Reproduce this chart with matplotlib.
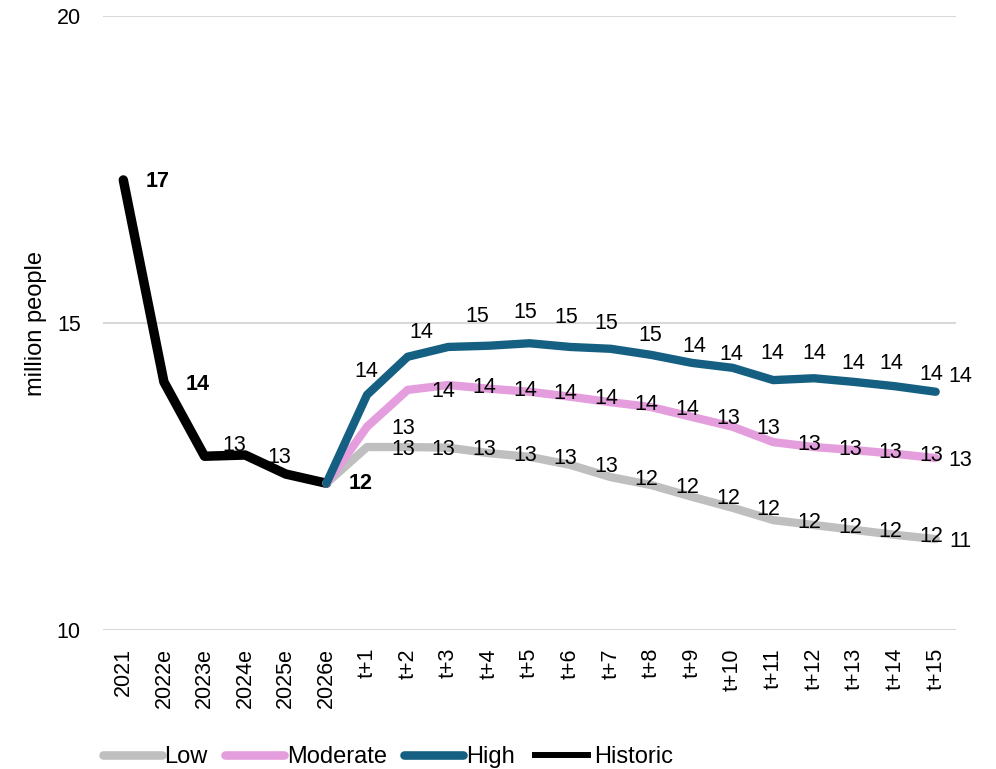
import matplotlib.pyplot as plt
from matplotlib.lines import Line2D

plt.rcParams['font.family'] = ['Liberation Sans', 'DejaVu Sans']

categories = ['2021', '2022e', '2023e', '2024e', '2025e', '2026e',
              't+1', 't+2', 't+3', 't+4', 't+5', 't+6', 't+7', 't+8',
              't+9', 't+10', 't+11', 't+12', 't+13', 't+14', 't+15']

# historic series covers 2021..2026e, scenarios start from 2026e
historic = [17.33, 14.04, 12.83, 12.85, 12.54, 12.39]
low = [12.39, 12.98, 12.98, 12.97, 12.88, 12.82, 12.69, 12.49, 12.36,
       12.17, 11.99, 11.79, 11.71, 11.63, 11.55, 11.48]
moderate = [12.39, 13.31, 13.91, 13.99, 13.93, 13.88, 13.80, 13.71, 13.63,
            13.47, 13.31, 13.06, 12.98, 12.93, 12.87, 12.80]
high = [12.39, 13.83, 14.45, 14.61, 14.63, 14.67, 14.61, 14.58, 14.48,
        14.35, 14.27, 14.07, 14.10, 14.04, 13.97, 13.88]

GREY = '#BFBFBF'
PINK = '#E59EDD'
TEAL = '#156082'
FS = 15.5
FS_TXT = 17

fig = plt.figure(figsize=(9.96, 7.69), dpi=100)
ax = fig.add_axes([103 / 996, 1 - 630 / 769, 853 / 996, 614 / 769])

x_hist = list(range(len(historic)))
x_scen = list(range(len(historic) - 1, len(categories)))

ax.plot(x_hist, historic, color='black', lw=6.8, solid_capstyle='round',
        solid_joinstyle='round', zorder=3)
ax.plot(x_scen, low, color=GREY, lw=6, solid_capstyle='round',
        solid_joinstyle='round', zorder=4)
ax.plot(x_scen, moderate, color=PINK, lw=6, solid_capstyle='round',
        solid_joinstyle='round', zorder=5)
ax.plot(x_scen, high, color=TEAL, lw=6, solid_capstyle='round',
        solid_joinstyle='round', zorder=6)


def label(x, y, dx, dy, bold=False):
    ax.annotate(f'{y:.0f}', (x, y), xytext=(dx, -dy), textcoords='offset pixels',
                ha='center', va='center', fontsize=FS,
                fontweight='bold' if bold else 'normal', zorder=10)


# historic labels (2025e left unlabelled)
hist_nudge = {0: (34, 2, True), 1: (34, 3, True), 2: (30, -11, False),
              3: (34, 2, False), 5: (34, 0, True)}
for i, (dx, dy, b) in hist_nudge.items():
    label(x_hist[i], historic[i], dx, dy, b)

# scenario labels sit right of each point, the last one closer in
for series, dy in ((low, 2), (moderate, 2)):
    for k in range(1, len(series)):
        dx = 25 if k == len(series) - 1 else 36
        label(x_scen[k], series[k], dx, dy)

high_nudge = [(-1, -23), (14, -24), (29, -30), (36, -33), (37, -26), (36, -23),
              (40, -13), (43, -8), (39, -8), (40, -14), (41, -27), (39, -15),
              (37, -18), (36, -12), (25, -15)]
for k in range(1, len(high)):
    dx, dy = high_nudge[k - 1]
    label(x_scen[k], high[k], dx, dy)

ax.set_xlim(-0.5, len(categories) - 0.5)
ax.set_ylim(10, 20)
ax.set_yticks([10, 15, 20])
ax.set_xticks(range(len(categories)))
ax.set_xticklabels(categories, rotation=90, fontsize=FS)
ax.tick_params(axis='y', length=0, pad=16, labelsize=FS)
ax.tick_params(axis='x', length=0, pad=13)
ax.grid(axis='y', color='#D9D9D9', lw=1.5)
ax.set_axisbelow(True)
for s in ax.spines.values():
    s.set_visible(False)

ax.set_ylabel('million people', fontsize=FS_TXT)
ax.yaxis.set_label_coords(-0.066, 0.5)

handles = [
    Line2D([], [], color=GREY, lw=6.2, solid_capstyle='round'),
    Line2D([], [], color=PINK, lw=6.2, solid_capstyle='round'),
    Line2D([], [], color=TEAL, lw=6.2, solid_capstyle='round'),
    Line2D([], [], color='black', lw=4.3, solid_capstyle='butt'),
]
fig.legend(handles, ['Low', 'Moderate', 'High', 'Historic'], ncol=4,
           loc='center left', bbox_to_anchor=(103 / 996, 1 - 757 / 769),
           frameon=False, fontsize=FS_TXT, handlelength=2.5, handletextpad=0.1,
           columnspacing=0.75, borderpad=0, borderaxespad=0)

fig.savefig('out.png', dpi=100)
